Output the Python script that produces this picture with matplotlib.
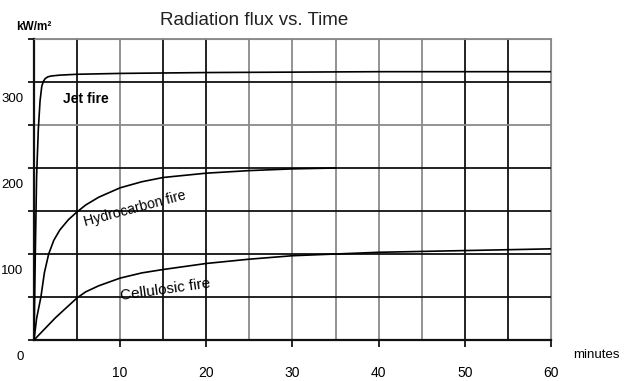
import numpy as np
import matplotlib
matplotlib.use('Agg')
import matplotlib.pyplot as plt
from matplotlib.transforms import ScaledTranslation

plt.rcParams['font.family'] = ['Liberation Sans', 'DejaVu Sans']

#%% data (minutes, kW/m2)
jet_t = [0, 0.15, 0.3, 0.5, 0.7, 0.9, 1.1, 1.3, 1.6, 2, 3, 5, 10, 20, 40, 60]
jet_q = [0, 100, 190, 245, 278, 295, 301, 304, 306, 307, 308, 309, 310, 311, 312, 312]

hc_t = [0, 0.3, 0.8, 1.2, 1.7, 2.3, 3, 4, 5, 6, 7.5, 10, 12.5, 15, 20, 25, 30, 35]
hc_q = [0, 25, 50, 78, 100, 116, 128, 140, 149, 157, 166, 177, 184, 189, 194, 197, 199, 200]

cel_t = [0, 2.5, 5, 6, 7.5, 10, 12.5, 15, 20, 25, 30, 40, 50, 60]
cel_q = [0, 26, 49, 56, 63, 72, 78, 82, 89, 94, 98, 102, 104, 106]

x_major = [10, 20, 30, 40, 50, 60]
x_minor = list(range(0, 61, 5))
y_major = [0, 100, 200, 300]
y_minor = list(range(0, 351, 50))

#%% figure
fig = plt.figure(figsize=(6.24, 3.81), dpi=100)
ax = fig.add_axes([0.0545, 0.1076, 0.8285, 0.79])
ax.set_xlim(0, 60)
ax.set_ylim(0, 350)

# grid: scanned look, some lines darker than others
dark_x = {0, 5, 15, 20, 50, 55}
dark_y = {0, 50, 100, 150, 200, 300}
for v in x_minor:
    c = '#111111' if v in dark_x else '#8a8a8a'
    ax.plot([v, v], [0, 350], color=c, lw=1.3, zorder=1, clip_on=False)
for v in y_minor:
    c = '#111111' if v in dark_y else '#8a8a8a'
    ax.plot([0, 60], [v, v], color=c, lw=1.3, zorder=1, clip_on=False)

for s in ['top', 'right']:
    ax.spines[s].set_color('#8a8a8a')
for s in ['left', 'bottom']:
    ax.spines[s].set_color('#111111')
    ax.spines[s].set_linewidth(1.6)

ax.plot(jet_t, jet_q, color='black', lw=1.2, zorder=3)
ax.plot(hc_t, hc_q, color='black', lw=1.2, zorder=3)
ax.plot(cel_t, cel_q, color='black', lw=1.2, zorder=3)

ax.set_xticks(x_major)
ax.set_xticks(x_minor, minor=True)
ax.set_yticks(y_major)
ax.set_yticks(y_minor, minor=True)
ax.tick_params(axis='x', which='major', length=5, width=1.2, pad=14, labelsize=10)
ax.tick_params(axis='x', which='minor', length=0)
ax.tick_params(axis='y', which='both', length=4, width=1.2, pad=3.5, labelsize=9.5)

# y labels sit below their grid line in the original
off = ScaledTranslation(0, -15 / 100, fig.dpi_scale_trans)
for lbl in ax.get_yticklabels():
    lbl.set_transform(lbl.get_transform() + off)

ax.text(0.425, 1.063, 'Radiation flux vs. Time', transform=ax.transAxes,
        ha='center', va='center', fontsize=13.5, color='#222222')
ax.text(0.0, 1.04, 'kW/m²', transform=ax.transAxes, ha='center',
        va='center', fontsize=8.5, fontweight='bold')
ax.text(1.087, -0.05, 'minutes', transform=ax.transAxes, ha='center',
        va='center', fontsize=9.5)

ax.text(6, 280, 'Jet fire', ha='center', va='center', fontsize=10,
        fontweight='bold', zorder=4)
ax.text(11.7, 153, 'Hydrocarbon fire', ha='center', va='center', fontsize=10.2,
        rotation=15, zorder=4)
ax.text(15.3, 58, 'Cellulosic fire', ha='center', va='center', fontsize=11,
        rotation=8, zorder=4)

fig.savefig('out.png', dpi=100)
